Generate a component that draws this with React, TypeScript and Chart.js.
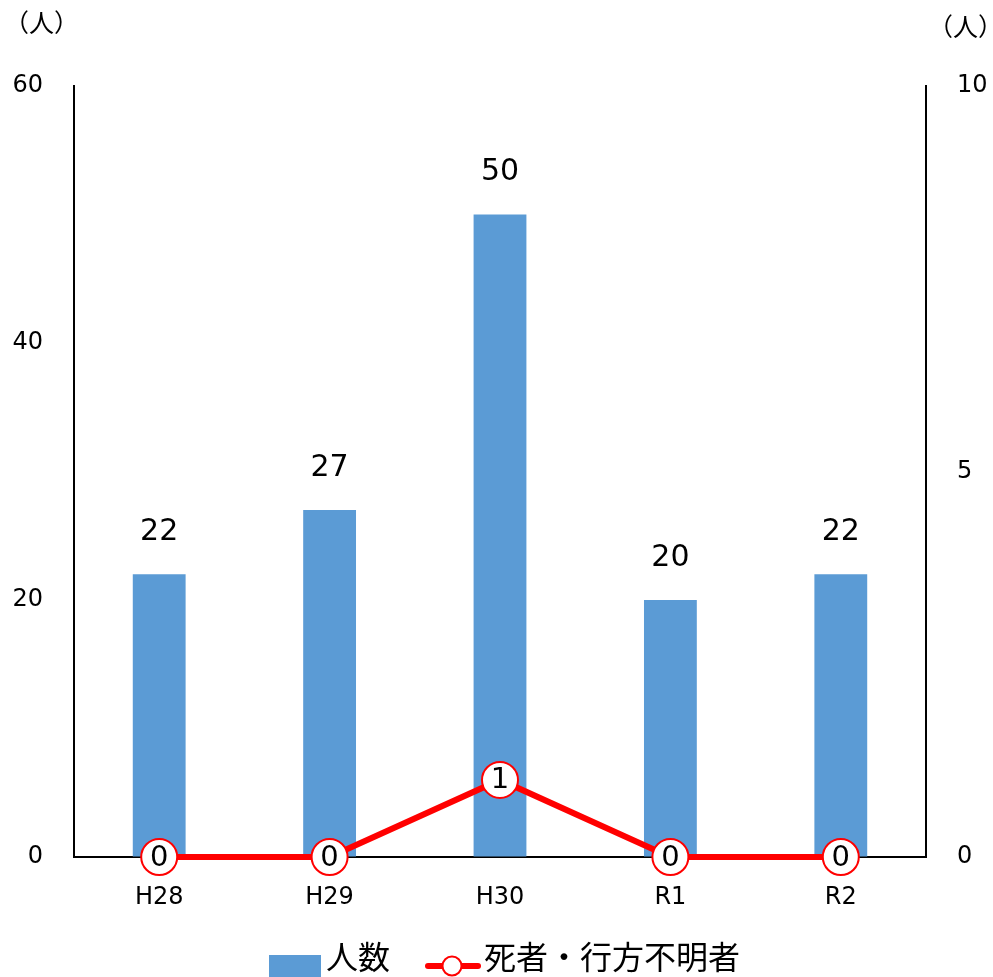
import React, { useEffect, useRef } from "react";
import { Chart, registerables } from "chart.js";

Chart.register(...registerables);

const categories = ["H28", "H29", "H30", "R1", "R2"];
const peopleValues = [22, 27, 50, 20, 22];
const deathValues = [0, 0, 1, 0, 0];
const leftTicks = [0, 20, 40, 60];
const rightTicks = [0, 5, 10];
const seriesNames = ["人数", "死者・行方不明者"];
const unitLabel = "（人）";

const FONT = '"DejaVu Sans", "Noto Sans CJK JP", sans-serif';
const BLUE = "#5B9BD5";
const RED = "#FF0000";

const labelsPlugin = {
  id: "customLabels",
  afterDatasetsDraw(chart: any) {
    const ctx = chart.ctx;
    ctx.save();
    ctx.fillStyle = "#000";
    ctx.textAlign = "center";
    ctx.textBaseline = "middle";
    const barMeta = chart.getDatasetMeta(0);
    ctx.font = `30px ${FONT}`;
    barMeta.data.forEach((el: any, i: number) => {
      ctx.fillText(String(peopleValues[i]), el.x, el.y - 42);
    });
    const lineMeta = chart.getDatasetMeta(1);
    ctx.font = `29px ${FONT}`;
    lineMeta.data.forEach((el: any, i: number) => {
      ctx.fillText(String(deathValues[i]), el.x, el.y + 1);
    });
    ctx.restore();
  },
  afterDraw(chart: any) {
    const ctx = chart.ctx;
    ctx.save();
    ctx.fillStyle = "#000";
    ctx.textBaseline = "middle";
    ctx.textAlign = "left";
    ctx.font = `25px ${FONT}`;
    ctx.fillText(unitLabel, 4, 25);
    ctx.fillText(unitLabel, 928, 29);

    // legend
    ctx.fillStyle = BLUE;
    ctx.fillRect(269, 955, 52, 22);
    ctx.fillStyle = "#000";
    ctx.font = `32px ${FONT}`;
    ctx.fillText(seriesNames[0], 326, 961);
    ctx.strokeStyle = RED;
    ctx.lineWidth = 6;
    ctx.lineCap = "round";
    ctx.beginPath();
    ctx.moveTo(428, 966);
    ctx.lineTo(478, 966);
    ctx.stroke();
    ctx.beginPath();
    ctx.arc(452, 966, 9.5, 0, Math.PI * 2);
    ctx.fillStyle = "#fff";
    ctx.fill();
    ctx.lineWidth = 2;
    ctx.stroke();
    ctx.fillStyle = "#000";
    ctx.fillText(seriesNames[1], 484, 961);
    ctx.restore();
  },
};

export default function App() {
  const ref = useRef<HTMLCanvasElement | null>(null);
  useEffect(() => {
    document.body.style.margin = "0";
    const canvas = ref.current;
    if (!canvas) return;
    const chart = new Chart(canvas, {
      type: "bar",
      data: {
        labels: categories,
        datasets: [
          {
            type: "bar",
            label: seriesNames[0],
            data: peopleValues,
            backgroundColor: BLUE,
            yAxisID: "y",
            order: 2,
            categoryPercentage: 1,
            barPercentage: 0.31,
          },
          {
            type: "line",
            label: seriesNames[1],
            data: deathValues,
            borderColor: RED,
            borderWidth: 6,
            pointRadius: 18,
            pointBorderWidth: 2,
            pointBackgroundColor: "#fff",
            pointBorderColor: RED,
            yAxisID: "y1",
            order: 1,
            clip: false,
            tension: 0,
          } as any,
        ],
      },
      options: {
        responsive: false,
        animation: false,
        devicePixelRatio: 1,
        layout: { padding: { top: 86, left: 0, right: 0, bottom: 0 } },
        plugins: {
          legend: { display: false },
          tooltip: { enabled: false },
        },
        scales: {
          x: {
            grid: { display: true, drawOnChartArea: false, drawTicks: false },
            border: { display: true, color: "#000", width: 2 },
            ticks: {
              color: "#000",
              font: { family: FONT, size: 24 },
              padding: 26,
            },
            afterFit(scale: any) {
              scale.height = 120;
            },
          },
          y: {
            position: "left",
            min: 0,
            max: 60,
            afterBuildTicks(scale: any) {
              scale.ticks = leftTicks.map((v) => ({ value: v }));
            },
            grid: { display: true, drawOnChartArea: false, drawTicks: false },
            border: { display: true, color: "#000", width: 2 },
            ticks: {
              color: "#000",
              font: { family: FONT, size: 24 },
              padding: 31,
            },
            afterFit(scale: any) {
              scale.width = 74;
            },
          },
          y1: {
            position: "right",
            min: 0,
            max: 10,
            afterBuildTicks(scale: any) {
              scale.ticks = rightTicks.map((v) => ({ value: v }));
            },
            grid: { display: true, drawOnChartArea: false, drawTicks: false },
            border: { display: true, color: "#000", width: 2 },
            ticks: {
              color: "#000",
              font: { family: FONT, size: 24 },
              padding: 31,
            },
            afterFit(scale: any) {
              scale.width = 67;
            },
          },
        },
      } as any,
      plugins: [labelsPlugin],
    });
    return () => chart.destroy();
  }, []);
  return (
    <div style={{ position: "absolute", left: 0, top: 0, width: 993, height: 977 }}>
      <canvas ref={ref} width={993} height={977} style={{ display: "block", width: 993, height: 977 }} />
    </div>
  );
}
